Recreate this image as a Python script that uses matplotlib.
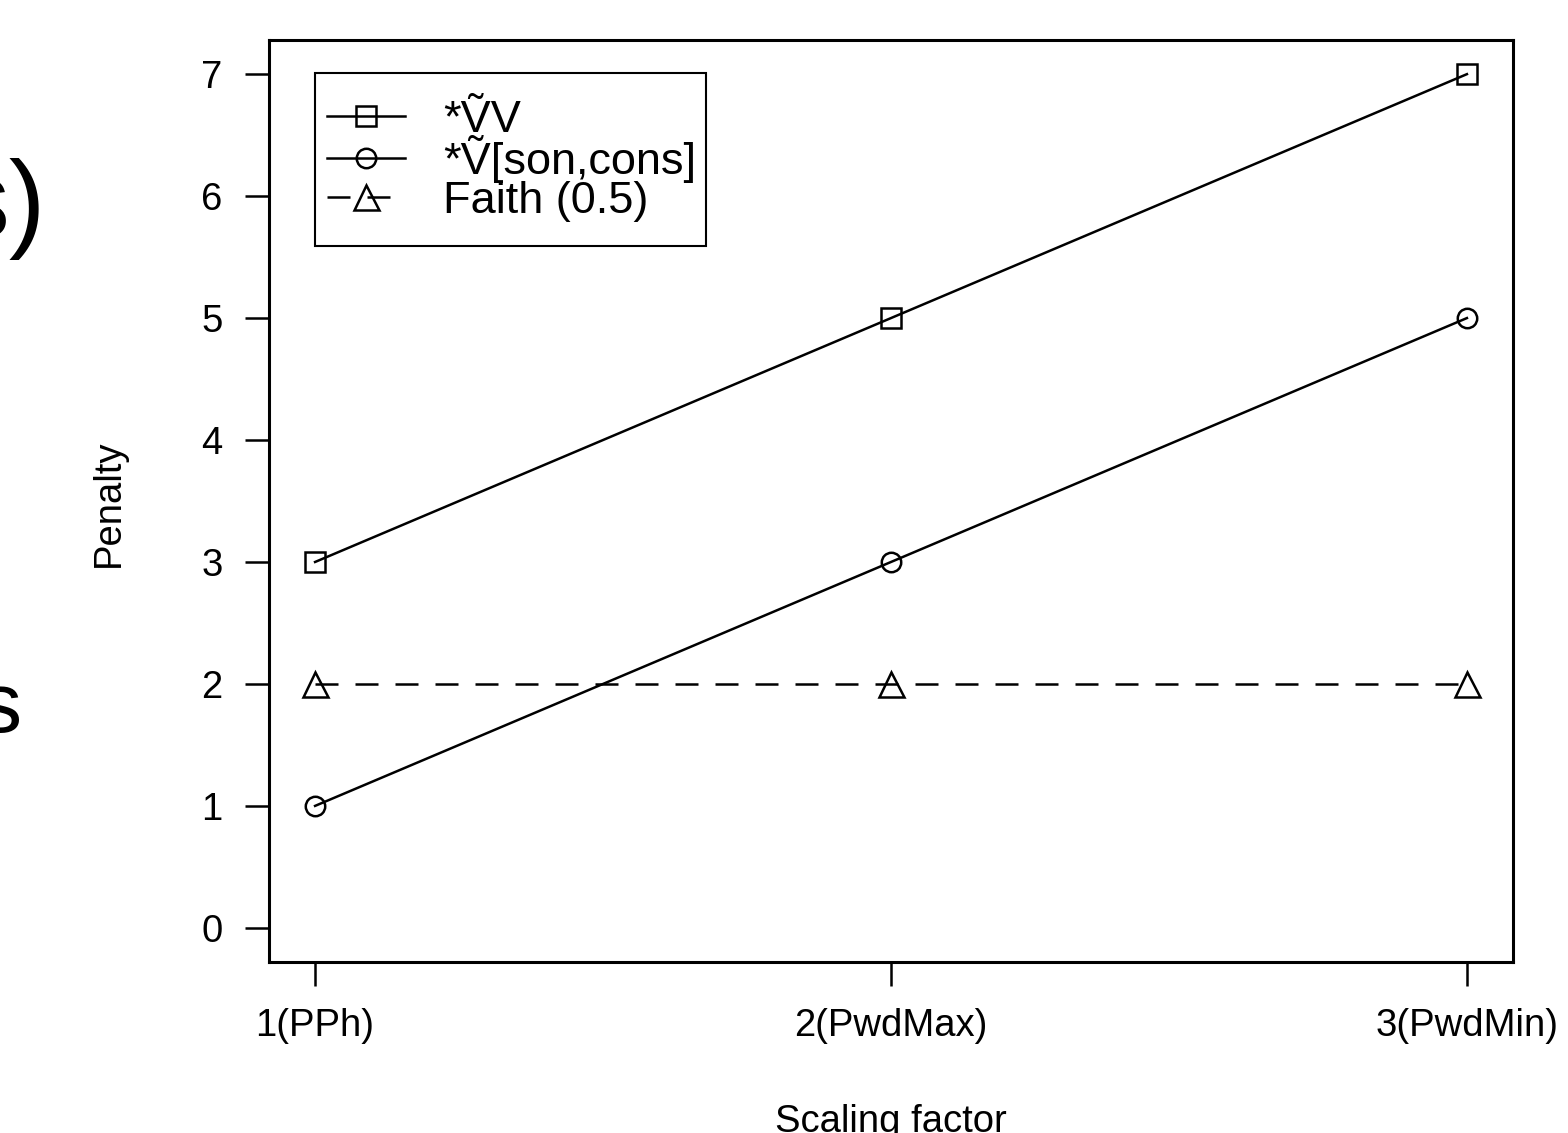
import matplotlib
matplotlib.use("Agg")
import matplotlib.pyplot as plt
from matplotlib.lines import Line2D
from matplotlib.patches import Rectangle

plt.rcParams['font.family'] = ['Liberation Sans', 'DejaVu Sans']

# Data
x_positions = [1, 2, 3]
x_labels = ["1(PPh)", "2(PwdMax)", "3(PwdMin)"]
series_vv = [3, 5, 7]
series_vsc = [1, 3, 5]
series_faith = [2, 2, 2]
legend_labels = ["*\u1E7CV", "*\u1E7C[son,cons]", "Faith (0.5)"]
y_ticks = [0, 1, 2, 3, 4, 5, 6, 7]

W, H = 1568, 1133
AX_L, AX_R, AX_T, AX_B = 269, 1513, 40, 962
fig = plt.figure(figsize=(W / 100, H / 100), dpi=100)
ax = fig.add_axes([AX_L / W, 1 - AX_B / H, (AX_R - AX_L) / W, (AX_B - AX_T) / H])


def ax_x(px):
    return (px - AX_L) / (AX_R - AX_L)


def ax_y(py):
    return (AX_B - py) / (AX_B - AX_T)


lw = 1.8
dash = (0, (9.2, 6.8))
styles = [
    dict(marker='s', ms=14, linestyle='-'),
    dict(marker='o', ms=14, linestyle='-'),
    dict(marker='^', ms=18, linestyle=dash),
]
all_series = [series_vv, series_vsc, series_faith]

for vals, st, lab in zip(all_series, styles, legend_labels):
    ax.plot(x_positions, vals, color='black', lw=lw, mfc='none', mec='black',
            mew=lw, label=lab, **st)

ax.set_xlim(0.92, 3.08)
ax.set_ylim(-0.28, 7.28)
ax.set_xticks(x_positions)
ax.set_xticklabels(x_labels)
ax.set_yticks(y_ticks)

for sp in ax.spines.values():
    sp.set_linewidth(2.2)

ax.tick_params(axis='y', direction='out', length=17, width=lw, pad=16.5,
               labelsize=27.5)
ax.tick_params(axis='x', direction='out', length=17, width=lw, pad=16,
               labelsize=27.5)

# Legend (R style, drawn in axes coordinates)
box_l, box_r, box_t, box_b = 315, 706, 73, 246
ax.add_patch(Rectangle((ax_x(box_l), ax_y(box_b)), ax_x(box_r) - ax_x(box_l),
                       ax_y(box_t) - ax_y(box_b), transform=ax.transAxes,
                       facecolor='white', edgecolor='black', lw=1.5,
                       clip_on=False, zorder=5))
row_y = [116, 158, 197]
for ry, st, lab in zip(row_y, styles, legend_labels):
    ax.add_line(Line2D([ax_x(327), ax_x(405)], [ax_y(ry), ax_y(ry)],
                       transform=ax.transAxes, color='black', lw=lw,
                       linestyle=st['linestyle'], clip_on=False, zorder=6))
    ax.add_line(Line2D([ax_x(366)], [ax_y(ry)], transform=ax.transAxes,
                       marker=st['marker'], ms=st['ms'], mfc='none',
                       mec='black', mew=lw, linestyle='none', clip_on=False,
                       zorder=7))
    ax.text(ax_x(443), ax_y(ry + 16), lab, transform=ax.transAxes,
            ha='left', va='baseline', fontsize=32.5, zorder=7)

fig.text(109 / W, 1 - 503 / H, "Penalty", rotation=90, ha='center', va='center',
         fontsize=27.5)
fig.text(891 / W, 1 - 1132 / H, "Scaling factor", ha='center', va='baseline',
         fontsize=27.5)

# slide text fragments cut off at the left edge
fig.text(46 / W, 1 - 237 / H, "s)", ha='right', va='baseline', fontsize=79)
fig.text(22 / W, 1 - 732 / H, "s", ha='right', va='baseline', fontsize=62)

fig.savefig("out.png", dpi=100)
